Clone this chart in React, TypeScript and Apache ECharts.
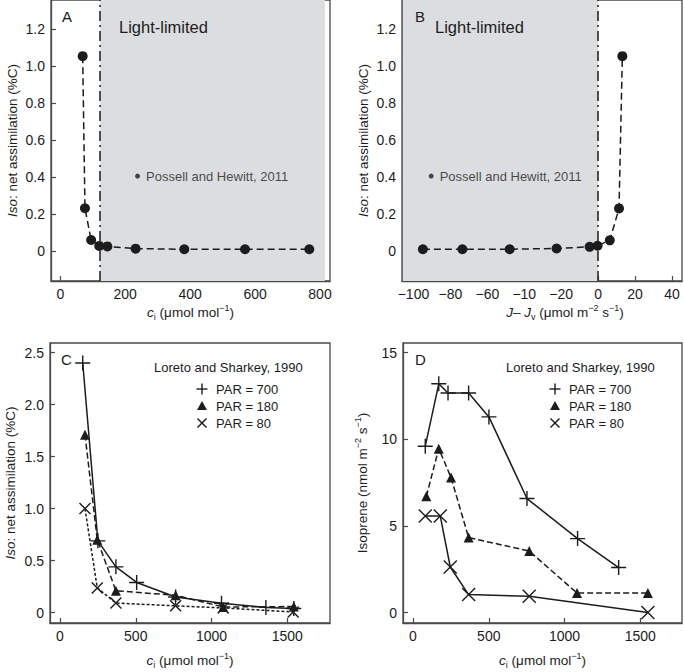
import React, { useEffect, useRef } from 'react';
import * as echarts from 'echarts';

const FONT = '"Liberation Sans", Arial, Helvetica, sans-serif';
const INK = '#1c1c1c';
const AXIS = '#4a4a4a';
const GRAY = '#dcdde0';

// Panel A: Iso:net assimilation vs ci (Possell and Hewitt, 2011)
const aCi = [69, 76, 95, 120, 145, 232, 382, 569, 767];
const aIso = [1.055, 0.232, 0.06, 0.028, 0.025, 0.013, 0.01, 0.01, 0.01];
const aLimitStart = 122;
const aLimitEnd = 815;
const aNote = [238, 0.406];

// Panel B: Iso:net assimilation vs J - Jv
const bJ = [-94.9, -73.5, -47.9, -22.5, -4.6, -0.3, 6.3, 11.3, 13.1];
const bIso = [0.01, 0.01, 0.01, 0.014, 0.023, 0.029, 0.058, 0.231, 1.055];
const bNote = [-90.4, 0.406];

// Panel C: Loreto and Sharkey 1990, Iso:net assimilation
const c700x = [150, 250, 369, 506, 763, 1066, 1359, 1543];
const c700y = [2.4, 0.69, 0.44, 0.29, 0.15, 0.09, 0.05, 0.04];
const c180x = [165, 246, 369, 763, 1077, 1543];
const c180y = [1.71, 0.7, 0.21, 0.166, 0.054, 0.058];
const c80x = [165, 246, 369, 763, 1077, 1539];
const c80y = [1.0, 0.237, 0.092, 0.065, 0.045, 0.006];

// Panel D: Loreto and Sharkey 1990, isoprene emission
const d700x = [81, 170, 231, 367, 501, 752, 1086, 1357];
const d700y = [9.6, 13.2, 12.67, 12.67, 11.29, 6.58, 4.27, 2.6];
const d180x = [88, 170, 251, 367, 767, 1082, 1550];
const d180y = [6.71, 9.46, 7.79, 4.33, 3.55, 1.13, 1.13];
const d80x = [81, 180, 246, 367, 767, 1550];
const d80y = [5.57, 5.57, 2.63, 1.04, 0.94, 0];

// Ticks
const abYTicks = [0, 0.2, 0.4, 0.6, 0.8, 1.0, 1.2];
const aXTicks = [0, 200, 400, 600, 800];
const bXTicks = [-100, -80, -60, -40, -20, 0, 20, 40];
const bXTickLabels = ['−100', '−80', '−60', '−10', '−20', '0', '20', '40'];
const cYTicks = [0, 0.5, 1.0, 1.5, 2.0, 2.5];
const cdXTicks = [0, 500, 1000, 1500];
const dYTicks = [0, 5, 10, 15];

const legendNames = ['PAR = 700', 'PAR = 180', 'PAR = 80'];

const pair = (xs: number[], ys: number[]) => xs.map((x, i) => [x, ys[i]]);

const PLUS = 'path://M0,5L10,5M5,0L5,10';
const CROSS = 'path://M0,0L10,10M0,10L10,0';

const nameStyle = {
  fontFamily: FONT,
  fontSize: 13.5,
  color: INK,
  lineHeight: 18,
  rich: {
    it: { fontFamily: FONT, fontSize: 13.5, fontStyle: 'italic', color: INK, lineHeight: 18 },
    sub: { fontFamily: FONT, fontSize: 9, color: INK, verticalAlign: 'bottom', lineHeight: 11 },
    sup: { fontFamily: FONT, fontSize: 9, color: INK, verticalAlign: 'top', lineHeight: 11 },
  },
};

function makeAxis(opts: any) {
  const { gridIndex, min, max, ticks, fmt, name, nameGap, padding } = opts;
  return {
    type: 'value',
    gridIndex,
    min,
    max,
    splitLine: { show: false },
    axisLine: { show: true, onZero: false, lineStyle: { color: AXIS, width: 1.3 } },
    axisTick: { show: true, inside: true, length: 5, customValues: ticks, lineStyle: { color: AXIS, width: 1.2 } },
    axisLabel: {
      customValues: ticks,
      formatter: fmt,
      hideOverlap: false,
      margin: 6,
      fontFamily: FONT,
      fontSize: 14,
      color: INK,
    },
    name,
    nameLocation: 'middle',
    nameGap,
    nameTextStyle: padding ? { ...nameStyle, padding } : nameStyle,
  };
}

const oneDec = (v: number) => (v === 0 ? '0' : v.toFixed(1));
const intFmt = (v: number) => String(v);
const bFmt = (v: number) => {
  let best = 0;
  bXTicks.forEach((t, i) => {
    if (Math.abs(t - v) < Math.abs(bXTicks[best] - v)) best = i;
  });
  return bXTickLabels[best];
};

function legendMarks(mx: number, tx: number, titleX: number) {
  const rows = [389, 406, 423];
  const els: any[] = [];
  els.push({
    type: 'text',
    z: 20,
    x: titleX,
    y: 367,
    style: { text: 'Loreto and Sharkey, 1990', font: `13px ${FONT}`, fill: INK, align: 'left', verticalAlign: 'middle' },
  });
  els.push({ type: 'line', z: 20, shape: { x1: mx - 5.5, y1: rows[0], x2: mx + 5.5, y2: rows[0] }, style: { stroke: INK, lineWidth: 1.4 } });
  els.push({ type: 'line', z: 20, shape: { x1: mx, y1: rows[0] - 5.5, x2: mx, y2: rows[0] + 5.5 }, style: { stroke: INK, lineWidth: 1.4 } });
  els.push({ type: 'polygon', z: 20, shape: { points: [[mx, rows[1] - 5], [mx - 5, rows[1] + 4], [mx + 5, rows[1] + 4]] }, style: { fill: INK } });
  els.push({ type: 'line', z: 20, shape: { x1: mx - 4.5, y1: rows[2] - 4.5, x2: mx + 4.5, y2: rows[2] + 4.5 }, style: { stroke: INK, lineWidth: 1.4 } });
  els.push({ type: 'line', z: 20, shape: { x1: mx - 4.5, y1: rows[2] + 4.5, x2: mx + 4.5, y2: rows[2] - 4.5 }, style: { stroke: INK, lineWidth: 1.4 } });
  legendNames.forEach((n, i) => {
    els.push({
      type: 'text',
      z: 20,
      x: tx,
      y: rows[i],
      style: { text: n, font: `13px ${FONT}`, fill: INK, align: 'left', verticalAlign: 'middle' },
    });
  });
  return els;
}

function panelText(text: string, x: number, y: number, size: number) {
  return {
    type: 'text',
    z: 20,
    x,
    y,
    style: { text, font: `${size}px ${FONT}`, fill: INK, align: 'left', verticalAlign: 'middle' },
  };
}

const dashDot = {
  silent: true,
  symbol: ['none', 'none'],
  label: { show: false },
  lineStyle: { color: INK, width: 1.5, type: [10, 4, 2, 4] },
};

function noteSeries(xi: number, pt: number[]) {
  return {
    type: 'scatter',
    xAxisIndex: xi,
    yAxisIndex: xi,
    data: [pt],
    symbol: 'circle',
    symbolSize: 5,
    itemStyle: { color: INK },
    z: 4,
    label: {
      show: true,
      position: 'right',
      distance: 6,
      formatter: 'Possell and Hewitt, 2011',
      fontFamily: FONT,
      fontSize: 13,
      color: INK,
    },
  };
}

const option: any = {
  animation: false,
  backgroundColor: '#ffffff',
  grid: [
    { left: 51, top: 0, width: 279, height: 281, show: true, borderColor: AXIS, borderWidth: 1.3, backgroundColor: 'transparent' },
    { left: 402, top: 0, width: 280, height: 281, show: true, borderColor: AXIS, borderWidth: 1.3, backgroundColor: 'transparent' },
    { left: 50, top: 343, width: 280, height: 280, show: true, borderColor: AXIS, borderWidth: 1.3, backgroundColor: 'transparent' },
    { left: 403, top: 343, width: 279, height: 280, show: true, borderColor: AXIS, borderWidth: 1.3, backgroundColor: 'transparent' },
  ],
  xAxis: [
    makeAxis({ gridIndex: 0, min: -28.6, max: 830.8, ticks: aXTicks, fmt: intFmt, name: '{it|c}{sub|i} (μmol mol{sup|−1})', nameGap: 22 }),
    makeAxis({
      gridIndex: 1,
      min: -106.2,
      max: 45.4,
      ticks: bXTicks,
      fmt: bFmt,
      name: '{it|J}– {it|J}{sub|v} (μmol m{sup|−2} s{sup|−1})',
      nameGap: 22,
      padding: [0, 0, 0, 46],
    }),
    makeAxis({ gridIndex: 2, min: -66, max: 1782, ticks: cdXTicks, fmt: intFmt, name: '{it|c}{sub|i} (μmol mol{sup|−1})', nameGap: 28 }),
    makeAxis({ gridIndex: 3, min: -66, max: 1775, ticks: cdXTicks, fmt: intFmt, name: '{it|c}{sub|i} (μmol mol{sup|−1})', nameGap: 28 }),
  ],
  yAxis: [
    makeAxis({ gridIndex: 0, min: -0.162, max: 1.359, ticks: abYTicks, fmt: oneDec, name: '{it|Iso}: net assimilation (%C)', nameGap: 29 }),
    makeAxis({ gridIndex: 1, min: -0.162, max: 1.359, ticks: abYTicks, fmt: oneDec, name: '{it|Iso}: net assimilation (%C)', nameGap: 29 }),
    makeAxis({ gridIndex: 2, min: -0.1, max: 2.592, ticks: cYTicks, fmt: oneDec, name: '{it|Iso}: net assimilation (%C)', nameGap: 31 }),
    makeAxis({ gridIndex: 3, min: -0.6, max: 15.555, ticks: dYTicks, fmt: intFmt, name: 'Isoprene (nmol m{sup|−2} s{sup|−1})', nameGap: 32 }),
  ],
  series: [
    {
      type: 'line',
      xAxisIndex: 0,
      yAxisIndex: 0,
      data: [],
      z: 1,
      markArea: { silent: true, itemStyle: { color: GRAY }, data: [[{ xAxis: aLimitStart }, { xAxis: aLimitEnd }]] },
    },
    {
      type: 'line',
      xAxisIndex: 1,
      yAxisIndex: 1,
      data: [],
      z: 1,
      markArea: { silent: true, itemStyle: { color: GRAY }, data: [[{ xAxis: -105.8 }, { xAxis: 0 }]] },
    },
    {
      type: 'line',
      xAxisIndex: 0,
      yAxisIndex: 0,
      data: pair(aCi, aIso),
      z: 3,
      symbol: 'circle',
      symbolSize: 10,
      showAllSymbol: true,
      itemStyle: { color: INK },
      lineStyle: { color: INK, width: 1.5, type: [7, 4] },
      markLine: { ...dashDot, data: [{ xAxis: aLimitStart }] },
    },
    {
      type: 'line',
      xAxisIndex: 1,
      yAxisIndex: 1,
      data: pair(bJ, bIso),
      z: 3,
      symbol: 'circle',
      symbolSize: 10,
      showAllSymbol: true,
      itemStyle: { color: INK },
      lineStyle: { color: INK, width: 1.5, type: [7, 4] },
      markLine: { ...dashDot, data: [{ xAxis: 0 }] },
    },
    noteSeries(0, aNote),
    noteSeries(1, bNote),
    {
      name: 'PAR = 700',
      type: 'line',
      xAxisIndex: 2,
      yAxisIndex: 2,
      data: pair(c700x, c700y),
      z: 3,
      symbol: PLUS,
      symbolSize: 15,
      showAllSymbol: true,
      itemStyle: { color: 'transparent', borderColor: INK, borderWidth: 1.4 },
      lineStyle: { color: INK, width: 1.5, type: 'solid' },
    },
    {
      name: 'PAR = 180',
      type: 'line',
      xAxisIndex: 2,
      yAxisIndex: 2,
      data: pair(c180x, c180y),
      z: 3,
      symbol: 'triangle',
      symbolSize: 10,
      showAllSymbol: true,
      itemStyle: { color: INK },
      lineStyle: { color: INK, width: 1.5, type: [6, 3] },
    },
    {
      name: 'PAR = 80',
      type: 'line',
      xAxisIndex: 2,
      yAxisIndex: 2,
      data: pair(c80x, c80y),
      z: 3,
      symbol: CROSS,
      symbolSize: 11,
      showAllSymbol: true,
      itemStyle: { color: 'transparent', borderColor: INK, borderWidth: 1.4 },
      lineStyle: { color: INK, width: 1.5, type: [3, 2] },
    },
    {
      name: 'PAR = 700',
      type: 'line',
      xAxisIndex: 3,
      yAxisIndex: 3,
      data: pair(d700x, d700y),
      z: 3,
      symbol: PLUS,
      symbolSize: 15,
      showAllSymbol: true,
      itemStyle: { color: 'transparent', borderColor: INK, borderWidth: 1.4 },
      lineStyle: { color: INK, width: 1.5, type: 'solid' },
    },
    {
      name: 'PAR = 180',
      type: 'line',
      xAxisIndex: 3,
      yAxisIndex: 3,
      data: pair(d180x, d180y),
      z: 3,
      symbol: 'triangle',
      symbolSize: 10,
      showAllSymbol: true,
      itemStyle: { color: INK },
      lineStyle: { color: INK, width: 1.5, type: [6, 3] },
    },
    {
      name: 'PAR = 80',
      type: 'line',
      xAxisIndex: 3,
      yAxisIndex: 3,
      data: pair(d80x, d80y),
      z: 3,
      symbol: CROSS,
      symbolSize: 13,
      showAllSymbol: true,
      itemStyle: { color: 'transparent', borderColor: INK, borderWidth: 1.4 },
      lineStyle: { color: INK, width: 1.5, type: 'solid' },
    },
  ],
  graphic: [
    panelText('A', 62, 16, 15),
    panelText('B', 415, 16, 15),
    panelText('C', 61, 359, 15),
    panelText('D', 415, 359, 15),
    panelText('Light-limited', 119, 27, 16.5),
    panelText('Light-limited', 435, 27, 16.5),
    ...legendMarks(202, 216, 154),
    ...legendMarks(555, 569, 506),
  ],
};

export default function App() {
  const ref = useRef<HTMLDivElement>(null);
  useEffect(() => {
    if (!ref.current) return;
    const chart = echarts.init(ref.current, null, { renderer: 'svg' });
    chart.setOption(option);
    return () => chart.dispose();
  }, []);
  return (
    <div
      ref={ref}
      style={{ position: 'absolute', left: 0, top: 0, width: 684, height: 672, background: '#fff' }}
    />
  );
}
